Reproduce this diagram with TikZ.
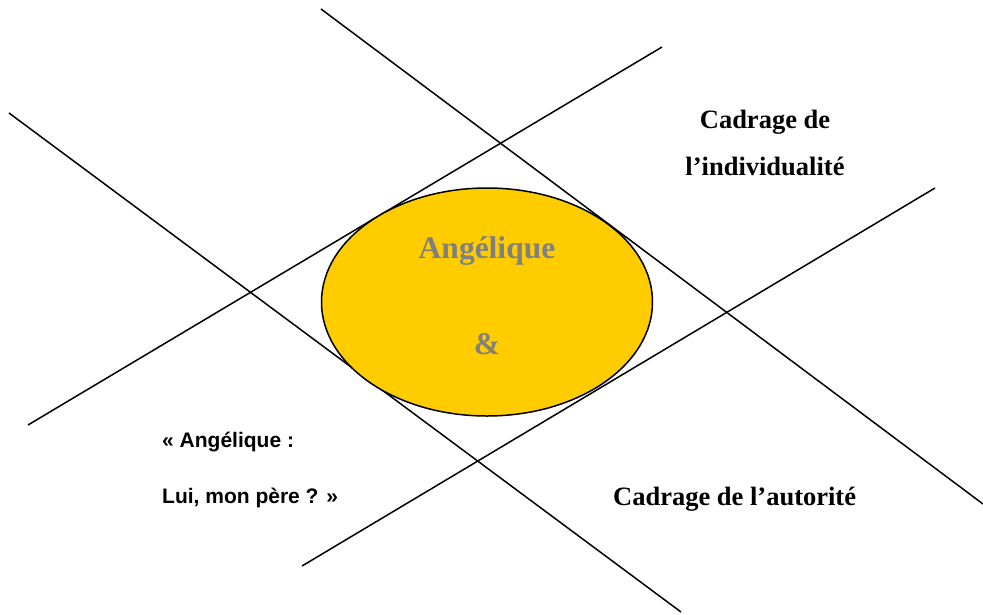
\documentclass[tikz,border=0pt]{standalone}
\usepackage{fontspec}
\setmainfont{Liberation Serif}
\setsansfont{Liberation Sans}
\usetikzlibrary{shapes.geometric}
\definecolor{gold}{HTML}{FFCC00}
\definecolor{greytxt}{HTML}{808080}
\begin{document}
\begin{tikzpicture}[x=1pt,y=-1pt,
  ln/.style={line width=1.5pt,black},
  serifbig/.style={font=\bfseries\fontsize{26.5}{30}\selectfont,anchor=base,inner sep=0pt},
  centre/.style={font=\bfseries\fontsize{31.5}{36}\selectfont,text=greytxt,anchor=base,inner sep=0pt},
  quote/.style={font=\sffamily\bfseries\fontsize{21}{24}\selectfont,anchor=base west,inner sep=0pt}]
\useasboundingbox (0,0) rectangle (983,614);
\coordinate (a1) at (321,9);   \coordinate (a2) at (983,504);
\coordinate (b1) at (9,113);   \coordinate (b2) at (681,612);
\coordinate (c1) at (28,425);  \coordinate (c2) at (662,47);
\coordinate (d1) at (302,566); \coordinate (d2) at (935,188);
\draw[ln] (a1) -- (a2);
\draw[ln] (b1) -- (b2);
\draw[ln] (c1) -- (c2);
\draw[ln] (d1) -- (d2);
\node[ellipse,draw=black,line width=1.5pt,fill=gold,minimum width=331pt,minimum height=228pt,inner sep=0pt] (ell) at (487,302) {};
\node[centre] (ang) at (487,258) {Angélique};
\node[centre] (amp) at (487,354) {\&};
\node[serifbig] (cad1) at (765,128) {Cadrage de};
\node[serifbig] (cad2) at (765,175) {l’individualité};
\node[serifbig,anchor=base west] (aut) at (613,505) {Cadrage de l’autorité};
\node[quote] (q1) at (162,447) {« Angélique :};
\node[quote] (q2) at (162,503) {Lui, mon père ? »};
\end{tikzpicture}
\end{document}
